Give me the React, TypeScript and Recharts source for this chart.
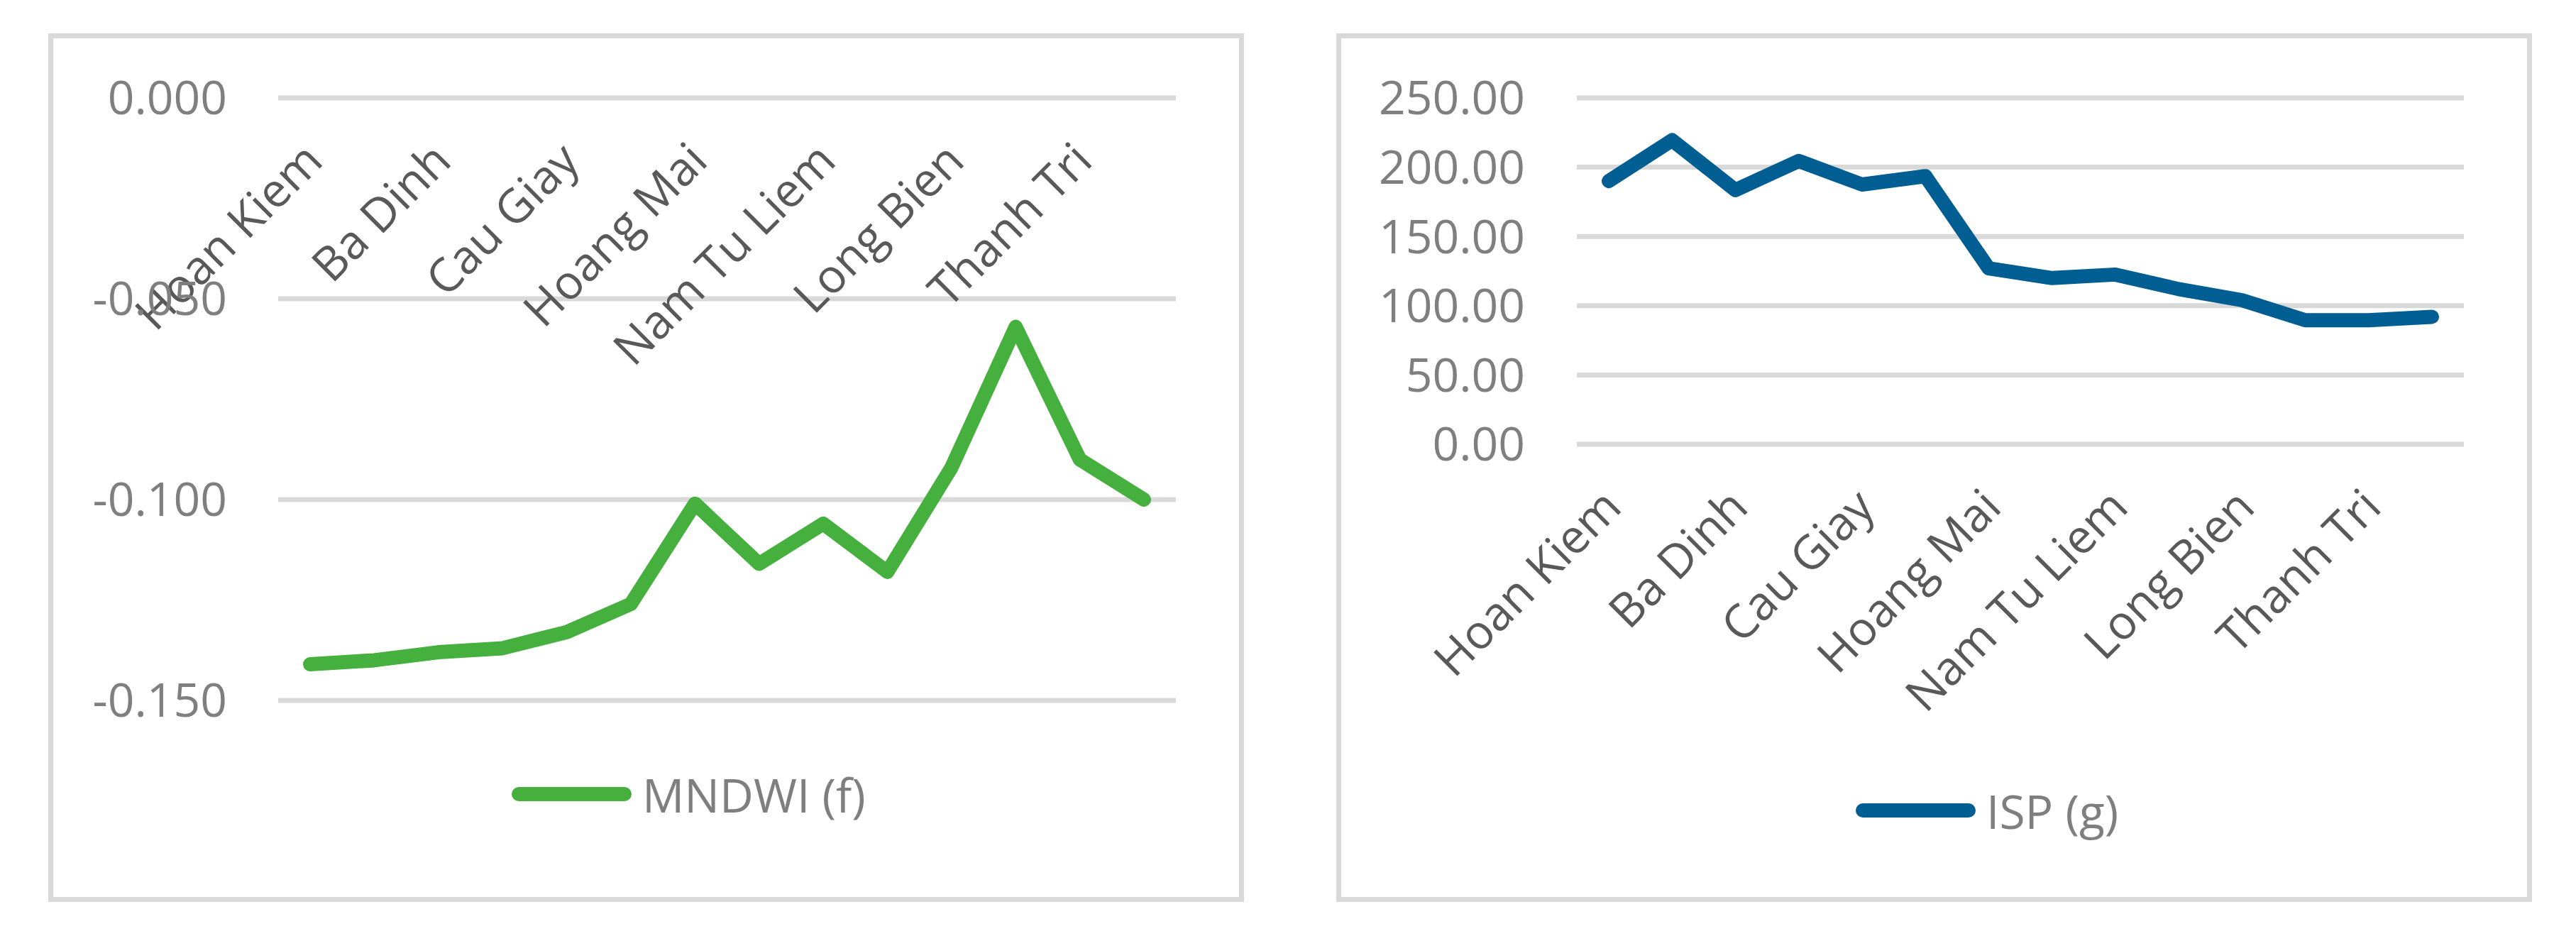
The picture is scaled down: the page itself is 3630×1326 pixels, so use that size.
import { CartesianGrid, Legend, Line, LineChart, XAxis, YAxis } from 'recharts'

// districts in chart order (every second one is labelled on the axis)
const DISTRICTS = [
  'Hoan Kiem',
  'Hai Ba Trung',
  'Ba Dinh',
  'Dong Da',
  'Cau Giay',
  'Thanh Xuan',
  'Hoang Mai',
  'Tay Ho',
  'Nam Tu Liem',
  'Bac Tu Liem',
  'Long Bien',
  'Ha Dong',
  'Thanh Tri',
  'Gia Lam',
]

const MNDWI = [-0.141, -0.14, -0.138, -0.137, -0.133, -0.126, -0.101, -0.116, -0.106, -0.118, -0.092, -0.057, -0.09, -0.1]
const ISP = [190, 219.5, 183.5, 204.5, 187.5, 193.5, 127, 120, 122.5, 112, 104, 89.5, 89.5, 92]

const MNDWI_TICKS = [0, -0.05, -0.1, -0.15]
const ISP_TICKS = [0, 50, 100, 150, 200, 250]

const rows = DISTRICTS.map((d, i) => ({ district: d, mndwi: MNDWI[i], isp: ISP[i] }))

const FONT = "'Open Sans', 'Noto Sans', sans-serif"
const GREEN = '#45b03d'
const BLUE = '#005e93'
const GRID = '#d9d9d9'

const panelStyle = (left: number) => ({
  position: 'absolute' as const,
  left,
  top: 47,
  width: 1685,
  height: 1224,
  boxSizing: 'border-box' as const,
  border: `7px solid ${GRID}`,
  background: '#fff',
})

function RotTick(props: any) {
  const { x, y, payload } = props
  return (
    <g transform={`translate(${x + 21},${y + 92})`}>
      <text
        textAnchor="end"
        transform="rotate(-45)"
        fill="#595959"
        fontSize={66}
        fontFamily={FONT}
      >
        {payload.value}
      </text>
    </g>
  )
}

function legendContent(color: string, label: string) {
  return () => (
    <div style={{ display: 'flex', alignItems: 'center', fontFamily: FONT }}>
      <svg width={184} height={60}>
        <line x1={10} y1={30} x2={159} y2={30} stroke={color} strokeWidth={20} strokeLinecap="round" />
      </svg>
      <span style={{ fontSize: 66, lineHeight: '66px', color: '#7f7f7f', whiteSpace: 'nowrap' }}>{label}</span>
    </div>
  )
}

const yTick = { fill: '#7f7f7f', fontSize: 66, fontFamily: FONT }

export default function App() {
  return (
    <div style={{ position: 'absolute', left: 0, top: 0, width: 3630, height: 1326, background: '#fff' }}>
      <div style={panelStyle(68)}>
        <LineChart width={1671} height={1210} data={rows} margin={{ top: 83, right: 89, bottom: 277, left: 0 }}>
          <CartesianGrid vertical={false} stroke={GRID} strokeWidth={7} />
          <XAxis
            dataKey="district"
            orientation="top"
            height={1}
            interval={1}
            axisLine={false}
            tickLine={false}
            tickSize={0}
            tickMargin={0}
            padding={{ left: 45, right: 45 }}
            tick={(p: any) => <RotTick {...p} />}
          />
          <YAxis
            domain={[-0.15, 0]}
            ticks={MNDWI_TICKS}
            width={317}
            axisLine={false}
            tickLine={false}
            tickSize={0}
            tickMargin={72}
            tick={yTick}
            tickFormatter={(v: number) => v.toFixed(3)}
          />
          <Line
            type="linear"
            dataKey="mndwi"
            name="MNDWI (f)"
            stroke={GREEN}
            strokeWidth={20}
            strokeLinejoin="round"
            strokeLinecap="round"
            dot={false}
            isAnimationActive={false}
          />
          <Legend
            layout="horizontal"
            verticalAlign="middle"
            align="center"
            wrapperStyle={{ left: 646, top: 1032, width: 'auto' }}
            content={legendContent(GREEN, 'MNDWI (f)')}
          />
        </LineChart>
      </div>

      <div style={panelStyle(1883)}>
        <LineChart width={1671} height={1210} data={rows} margin={{ top: 84, right: 89, bottom: 438, left: 0 }}>
          <CartesianGrid vertical={false} stroke={GRID} strokeWidth={7} />
          <XAxis
            dataKey="district"
            height={200}
            interval={1}
            axisLine={false}
            tickLine={false}
            tickSize={0}
            tickMargin={0}
            padding={{ left: 45, right: 45 }}
            tick={(p: any) => <RotTick {...p} />}
          />
          <YAxis
            domain={[0, 250]}
            ticks={ISP_TICKS}
            width={332}
            axisLine={false}
            tickLine={false}
            tickSize={0}
            tickMargin={73}
            tick={yTick}
            tickFormatter={(v: number) => v.toFixed(2)}
          />
          <Line
            type="linear"
            dataKey="isp"
            name="ISP (g)"
            stroke={BLUE}
            strokeWidth={20}
            strokeLinejoin="round"
            strokeLinecap="round"
            dot={false}
            isAnimationActive={false}
          />
          <Legend
            layout="horizontal"
            verticalAlign="middle"
            align="center"
            wrapperStyle={{ left: 725, top: 1055, width: 'auto' }}
            content={legendContent(BLUE, 'ISP (g)')}
          />
        </LineChart>
      </div>
    </div>
  )
}
